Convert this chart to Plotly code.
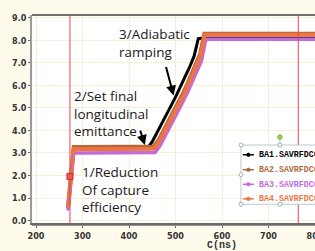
import plotly.graph_objects as go

# ---------------- data ----------------
BA1_x = [269, 271, 273, 275, 277, 279, 281, 300, 350, 400, 440, 450, 460, 470, 480, 490, 500, 510, 520, 530, 540, 549, 556, 600, 650, 700, 750, 800]
BA1_y = [0.55, 1.0, 1.5, 2.0, 2.5, 2.9, 3.2, 3.2, 3.21, 3.2, 3.22, 3.5, 3.88, 4.28, 4.68, 5.08, 5.48, 5.9, 6.35, 6.8, 7.3, 8.08, 8.1, 8.1, 8.1, 8.1, 8.1, 8.1]

BA2_x = [269, 271, 273, 275, 277, 279, 281, 300, 350, 400, 453, 463, 473, 483, 493, 503, 513, 523, 533, 543, 553, 562, 600, 650, 700, 750, 800]
BA2_y = [0.6, 1.05, 1.55, 2.05, 2.55, 2.95, 3.27, 3.27, 3.27, 3.27, 3.29, 3.55, 3.93, 4.33, 4.73, 5.13, 5.53, 5.95, 6.4, 6.85, 7.4, 8.3, 8.3, 8.3, 8.3, 8.3, 8.3]

BA3_x = [269, 271, 273, 275, 277, 279, 281, 300, 350, 400, 456, 466, 476, 486, 496, 506, 516, 526, 536, 546, 556, 565, 600, 650, 700, 750, 800]
BA3_y = [0.5, 0.95, 1.45, 1.95, 2.45, 2.85, 3.0, 3.0, 3.0, 3.0, 3.02, 3.3, 3.68, 4.08, 4.48, 4.88, 5.28, 5.7, 6.15, 6.6, 7.1, 8.05, 8.05, 8.05, 8.05, 8.05, 8.05]

BA4_x = [269, 271, 273, 275, 277, 279, 281, 300, 350, 400, 454, 464, 474, 484, 494, 504, 514, 524, 534, 544, 554, 563, 600, 650, 700, 750, 800]
BA4_y = [0.6, 1.05, 1.55, 2.05, 2.55, 2.95, 3.17, 3.17, 3.17, 3.17, 3.19, 3.47, 3.85, 4.25, 4.65, 5.05, 5.45, 5.87, 6.32, 6.77, 7.32, 8.25, 8.25, 8.25, 8.25, 8.25, 8.25]

series_names = ["BA1.SAVRFDC01", "BA2.SAVRFDC01", "BA3.SAVRFDC01", "BA4.SAVRFDC01"]
series_colors = ["#000000", "#B0693C", "#C46BDC", "#EC7442"]

cursor_x = [273, 764]
marker_pt = (273, 1.96)

x_ticks = [200, 300, 400, 500, 600, 700, 800]
y_ticks = [0, 1, 2, 3, 4, 5, 6, 7, 8, 9]
x_title = "C(ns)"

# ---------------- figure ----------------
fig = go.Figure()
xs = [BA1_x, BA2_x, BA3_x, BA4_x]
ys = [BA1_y, BA2_y, BA3_y, BA4_y]
widths = [3, 4, 3.5, 4]
for name, x, y, c, w in zip(series_names, xs, ys, series_colors, widths):
    fig.add_trace(go.Scatter(x=x, y=y, mode="lines", name=name,
                             line=dict(color=c, width=w), showlegend=False,
                             hoverinfo="skip"))
# purple sample dots along the initial rise
rise_n = 6
fig.add_trace(go.Scatter(x=BA3_x[:rise_n], y=BA3_y[:rise_n], mode="markers",
                         marker=dict(color="#C46BDC", size=3), showlegend=False,
                         hoverinfo="skip"))
fig.add_trace(go.Scatter(x=[marker_pt[0]], y=[marker_pt[1]], mode="markers",
                         marker=dict(symbol="square", color="#F06060", size=6,
                                     line=dict(color="#D02020", width=1)),
                         showlegend=False, hoverinfo="skip"))

for cx in cursor_x:
    fig.add_shape(type="line", xref="x", yref="paper", x0=cx, x1=cx, y0=0, y1=1,
                  line=dict(color="#E04848", width=1), layer="above")

# top frame
fig.add_shape(type="line", xref="paper", yref="paper", x0=0, x1=1.05, y0=1, y1=1,
              line=dict(color="#707070", width=2))
# second x-axis line (double line look)
fig.add_shape(type="line", xref="paper", yref="paper", x0=0, x1=1.05, y0=-0.012, y1=-0.012,
              line=dict(color="#909090", width=1))

txt_font = dict(family="Open Sans", size=13.5, color="#1a1a1a")
labels = [
    ("3/Adiabatic<br>ramping", 376, 7.87),
    ("2/Set final<br>longitudinal<br>emittance", 279, 4.75),
    ("1/Reduction<br>Of capture<br>efficiency", 297, 1.37),
]
for t, x, y in labels:
    fig.add_annotation(text=t, x=x, y=y, xref="x", yref="y", xanchor="left",
                       yanchor="middle", align="left", showarrow=False, font=txt_font,
                       borderpad=0)

# arrows
fig.add_annotation(x=496, y=5.55, xref="x", yref="y", text="", showarrow=True,
                   ax=-8, ay=-30, arrowhead=2, arrowsize=1, arrowwidth=2, arrowcolor="#000")
fig.add_annotation(x=434, y=3.35, xref="x", yref="y", text="", showarrow=True,
                   ax=-5, ay=-16, arrowhead=2, arrowsize=1, arrowwidth=2, arrowcolor="#000")

# x title
fig.add_annotation(text=x_title, x=600, y=-0.106, xref="x", yref="paper", showarrow=False,
                   yanchor="middle", font=dict(family="Liberation Mono", size=10, color="#333", weight="bold"))

# manual legend box
lx0, lx1, ly0, ly1 = 0.7385, 1.1, 0.09, 0.375
fig.add_shape(type="rect", xref="paper", yref="paper", x0=lx0, x1=lx1, y0=ly0, y1=ly1,
              line=dict(color="#B8CCCC", width=1), fillcolor="white", layer="above")
fig.add_shape(type="line", xref="paper", yref="paper", x0=0.876, x1=0.876, y0=ly1, y1=0.413,
              line=dict(color="#B8CCCC", width=1), layer="above")
for hx, hy in [(lx0, ly1), (0.876, ly1), (lx0, (ly0 + ly1) / 2), (lx0, ly0), (0.876, ly0)]:
    fig.add_shape(type="circle", xref="paper", yref="paper", x0=hx - 0.007, x1=hx + 0.007,
                  y0=hy - 0.0095, y1=hy + 0.0095, line=dict(color="#9AB0B0", width=1),
                  fillcolor="white", layer="above")
fig.add_shape(type="circle", xref="paper", yref="paper", x0=0.876 - 0.008, x1=0.876 + 0.008,
              y0=0.413 - 0.011, y1=0.413 + 0.011, line=dict(color="#80B040", width=1),
              fillcolor="#A0D060", layer="above")
entry_y = [0.328, 0.256, 0.186, 0.116]
for name, c, ey in zip(series_names, series_colors, entry_y):
    fig.add_shape(type="line", xref="paper", yref="paper", x0=0.745, x1=0.784, y0=ey, y1=ey,
                  line=dict(color=c, width=1.5), layer="above")
    fig.add_shape(type="circle", xref="paper", yref="paper", x0=0.7585, x1=0.7705,
                  y0=ey - 0.008, y1=ey + 0.008, line=dict(color=c, width=1), fillcolor=c,
                  layer="above")
    fig.add_annotation(text=name, x=0.795, y=ey, xref="paper", yref="paper", xanchor="left",
                       yanchor="middle", showarrow=False,
                       font=dict(family="Liberation Mono", size=8.3, color=c, weight="bold"))

tick_font = dict(family="Liberation Sans Narrow, DejaVu Sans Condensed, sans-serif", size=9,
                 color="#333", weight="bold")
fig.update_layout(
    width=315, height=251,
    margin=dict(l=32, r=0, t=15, b=28),
    paper_bgcolor="#FFFBEC", plot_bgcolor="white",
    xaxis=dict(range=[191.4, 800], tickvals=x_ticks, ticktext=[str(v) for v in x_ticks],
               showgrid=True, gridcolor="#F6EFD6", gridwidth=1, zeroline=False,
               showline=True, linecolor="#6a6a6a", linewidth=2, automargin=False,
               ticks="outside", ticklen=3, tickcolor="#666", tickfont=tick_font,
               ticklabeloverflow="allow"),
    yaxis=dict(range=[-0.11, 9.13], tickvals=y_ticks, ticktext=["%.1f" % v for v in y_ticks],
               showgrid=True, gridcolor="#F6EFD6", gridwidth=1, zeroline=False,
               showline=True, linecolor="#9a9a9a", linewidth=1.5, automargin=False,
               ticks="outside", ticklen=2, tickcolor="#666", tickfont=tick_font),
)

fig.write_html("out.html", config={"displayModeBar": False},
               post_script="document.body.style.margin='0';document.body.style.overflow='hidden';")
